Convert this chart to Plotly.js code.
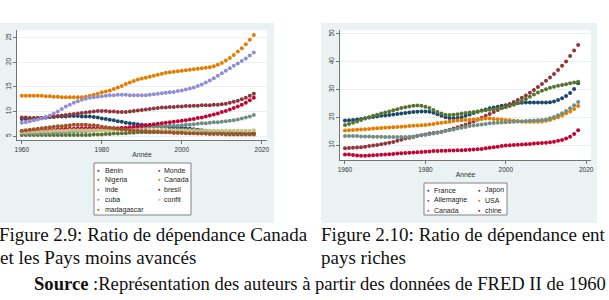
<!DOCTYPE html>
<html>
<head>
<meta charset="utf-8">
<script src="https://cdn.plot.ly/plotly-3.0.1.min.js"></script>
<style>
  html, body { margin: 0; padding: 0; background: #ffffff; }
  #chart { width: 609px; height: 300px; }
</style>
</head>
<body>
<div id="chart"></div>
<script>
// Years shared by both panels
const years = [1960,1961,1962,1963,1964,1965,1966,1967,1968,1969,
               1970,1971,1972,1973,1974,1975,1976,1977,1978,1979,
               1980,1981,1982,1983,1984,1985,1986,1987,1988,1989,
               1990,1991,1992,1993,1994,1995,1996,1997,1998,1999,
               2000,2001,2002,2003,2004,2005,2006,2007,2008,2009,
               2010,2011,2012,2013,2014,2015,2016,2017,2018];

// ---- Panel 1: Canada et pays moins avancés (old-age dependency ratio, %) ----
const benin = [8.5,8.5,8.6,8.6,8.7,8.7,8.8,8.9,8.9,9.0, 9.0,9.0,9.1,9.1,9.1,9.0,9.0,9.0,8.9,8.8,
               8.6,8.5,8.3,8.2,8.0,7.9,7.7,7.6,7.5,7.4, 7.3,7.2,7.1,7.0,7.0,6.9,6.9,6.8,6.8,6.7,
               6.7,6.6,6.5,6.4,6.3,6.2,6.1,6.0,6.0,5.9, 5.9,5.8,5.8,5.7,5.7,5.7,5.6,5.6,5.6];
const monde = [8.8,8.8,8.7,8.7,8.7,8.7,8.8,8.9,9.0,9.1, 9.2,9.3,9.4,9.5,9.6,9.7,9.8,9.9,10.0,10.1,
               10.1,10.1,10.0,10.0,9.9,9.9,9.9,10.0,10.1,10.2, 10.3,10.4,10.5,10.6,10.7,10.8,10.8,10.9,10.9,11.0,
               11.0,11.1,11.1,11.2,11.2,11.3,11.3,11.3,11.4,11.4, 11.5,11.6,11.8,12.0,12.2,12.5,12.8,13.2,13.6];
const nigeria = [5.2,5.2,5.2,5.2,5.2,5.2,5.2,5.2,5.2,5.2, 5.2,5.2,5.2,5.2,5.2,5.2,5.2,5.2,5.3,5.3,
                 5.3,5.4,5.4,5.5,5.5,5.6,5.6,5.7,5.7,5.8, 5.8,5.8,5.8,5.8,5.8,5.8,5.8,5.8,5.7,5.7,
                 5.7,5.7,5.6,5.6,5.6,5.6,5.5,5.5,5.5,5.5, 5.5,5.5,5.4,5.4,5.4,5.4,5.4,5.4,5.4];
const canada = [13.2,13.2,13.2,13.2,13.2,13.2,13.1,13.1,13.0,13.0, 12.9,12.9,12.9,12.9,12.9,12.9,13.0,13.2,13.4,13.6,
                13.9,14.1,14.3,14.6,14.9,15.2,15.6,15.9,16.2,16.5, 16.7,16.9,17.1,17.3,17.5,17.7,17.9,18.0,18.1,18.2,
                18.3,18.4,18.5,18.6,18.7,18.8,18.9,19.0,19.2,19.5, 19.9,20.4,20.9,21.5,22.2,22.9,23.7,24.6,25.6];
const inde = [5.5,5.5,5.5,5.5,5.6,5.6,5.6,5.7,5.7,5.7, 5.8,5.8,5.9,5.9,6.0,6.0,6.0,6.1,6.1,6.2,
              6.2,6.3,6.3,6.4,6.4,6.5,6.6,6.6,6.7,6.7, 6.8,6.8,6.9,6.9,7.0,7.0,7.0,7.1,7.1,7.1,
              7.2,7.3,7.3,7.4,7.5,7.6,7.6,7.7,7.8,7.8, 7.9,8.0,8.1,8.2,8.4,8.6,8.8,9.0,9.3];
const bresil = [6.0,6.0,6.1,6.1,6.1,6.2,6.2,6.3,6.3,6.4, 6.4,6.5,6.5,6.5,6.6,6.6,6.6,6.6,6.6,6.6,
                6.6,6.6,6.6,6.6,6.6,6.7,6.7,6.8,6.9,7.0, 7.1,7.2,7.3,7.4,7.5,7.6,7.7,7.8,7.9,8.0,
                8.1,8.2,8.4,8.5,8.7,8.8,9.0,9.2,9.4,9.6, 9.9,10.1,10.4,10.7,11.0,11.4,11.8,12.3,12.8];
const cuba = [7.7,7.8,8.0,8.2,8.4,8.6,8.9,9.2,9.6,10.0, 10.5,11.0,11.4,11.8,12.1,12.4,12.6,12.8,12.9,13.0,
              13.1,13.2,13.3,13.3,13.4,13.4,13.4,13.3,13.3,13.3, 13.3,13.3,13.4,13.5,13.6,13.7,13.8,13.9,14.0,14.2,
              14.3,14.5,14.7,14.9,15.2,15.5,15.9,16.3,16.8,17.3, 17.8,18.3,18.8,19.3,19.8,20.3,20.8,21.4,22.0];
const confit = [5.8,5.8,5.9,5.9,5.9,6.0,6.0,6.0,6.1,6.1, 6.1,6.1,6.2,6.2,6.2,6.2,6.2,6.2,6.2,6.2,
                6.2,6.2,6.2,6.2,6.2,6.2,6.2,6.2,6.2,6.2, 6.2,6.2,6.2,6.2,6.2,6.2,6.2,6.2,6.2,6.2,
                6.2,6.2,6.2,6.2,6.1,6.1,6.1,6.1,6.1,6.1, 6.1,6.1,6.1,6.1,6.1,6.1,6.1,6.1,6.2];
const madagascar = [6.1,6.2,6.3,6.4,6.5,6.6,6.7,6.8,6.9,7.0, 7.0,7.1,7.2,7.3,7.3,7.3,7.3,7.2,7.2,7.1,
                    6.9,6.8,6.7,6.6,6.5,6.4,6.3,6.2,6.1,6.1, 6.0,6.0,5.9,5.9,5.9,5.8,5.8,5.8,5.7,5.7,
                    5.7,5.6,5.6,5.6,5.5,5.5,5.5,5.4,5.4,5.4, 5.4,5.3,5.3,5.3,5.3,5.3,5.3,5.3,5.3];

// ---- Panel 2: pays riches ----
const france = [18.8,18.9,19.0,19.2,19.4,19.6,19.9,20.1,20.3,20.5, 20.6,20.8,21.0,21.2,21.3,21.5,21.7,21.9,22.0,22.1,
                22.1,22.0,21.6,21.1,20.5,20.0,19.7,19.6,19.7,20.0, 20.5,21.0,21.5,22.0,22.4,22.8,23.2,23.5,23.8,24.1,
                24.3,24.6,24.8,25.0,25.2,25.3,25.3,25.3,25.3,25.3, 25.3,25.4,25.7,26.2,26.8,27.6,28.7,30.2,32.2];
const japon = [8.8,8.9,9.0,9.1,9.2,9.4,9.6,9.8,10.0,10.3, 10.5,10.8,11.1,11.5,11.9,12.3,12.6,12.9,13.2,13.5,
               13.8,14.1,14.3,14.5,14.8,15.1,15.5,15.9,16.4,16.8, 17.3,17.9,18.5,19.1,19.8,20.5,21.2,21.9,22.6,23.3,
               24.0,24.8,25.5,26.2,27.0,27.8,28.8,29.8,30.9,32.0, 33.1,34.3,35.6,37.0,38.5,40.1,42.0,44.0,46.0];
const allemagne = [17.2,17.6,18.0,18.5,19.0,19.5,20.0,20.5,20.9,21.3, 21.7,22.1,22.5,22.9,23.3,23.6,23.9,24.1,24.2,24.1,
                   23.8,23.3,22.6,21.9,21.3,20.9,20.8,20.9,21.1,21.3, 21.5,21.7,21.9,22.1,22.3,22.5,22.7,22.9,23.1,23.3,
                   23.6,24.0,24.5,25.1,25.8,26.6,27.4,28.2,28.9,29.5, 30.1,30.6,31.0,31.3,31.6,31.9,32.2,32.5,32.8];
const usa = [15.2,15.3,15.4,15.5,15.6,15.7,15.8,15.9,16.0,16.1, 16.2,16.3,16.4,16.5,16.6,16.7,16.8,16.9,17.0,17.1,
             17.2,17.4,17.6,17.8,18.0,18.2,18.4,18.6,18.8,18.9, 19.0,19.1,19.2,19.3,19.4,19.5,19.5,19.4,19.3,19.2,
             19.0,18.9,18.7,18.6,18.5,18.4,18.4,18.4,18.4,18.5, 18.7,19.0,19.5,20.0,20.6,21.3,22.1,23.0,24.0];
const canadaRiches = [13.2,13.2,13.2,13.2,13.1,13.1,13.1,13.0,13.0,13.0, 12.9,12.9,12.9,12.9,12.9,12.9,13.0,13.1,13.3,13.5,
                      13.7,13.9,14.1,14.4,14.7,15.0,15.3,15.6,15.9,16.2, 16.5,16.8,17.0,17.2,17.4,17.6,17.8,17.9,18.0,18.1,
                      18.2,18.3,18.4,18.5,18.5,18.6,18.7,18.8,18.9,19.0, 19.2,19.6,20.1,20.7,21.4,22.2,23.2,24.3,25.5];
const chine = [6.6,6.6,6.4,6.2,6.1,6.1,6.2,6.3,6.4,6.5, 6.6,6.7,6.8,6.9,7.0,7.1,7.2,7.3,7.4,7.5,
               7.6,7.7,7.8,7.8,7.9,7.9,8.0,8.0,8.1,8.1, 8.2,8.3,8.4,8.5,8.6,8.8,9.0,9.2,9.4,9.6,
               9.8,9.9,10.0,10.1,10.2,10.3,10.4,10.5,10.6,10.7, 10.8,11.0,11.2,11.5,11.8,12.3,13.0,14.0,15.3];

// Series in legend order (row by row, two columns)
const namesLeft  = ['Bénin','Monde','Nigeria','Canada','inde','bresil','cuba','confit','madagascar'];
const valuesLeft = [benin, monde, nigeria, canada, inde, bresil, cuba, confit, madagascar];
const namesRight  = ['France','Japon','Allemagne','USA','Canada','chine'];
const valuesRight = [france, japon, allemagne, usa, canadaRiches, chine];

// s2color palette
const palette = ['#1a476f','#90353b','#55752f','#e37e00','#6e8e84','#c10534','#938dd2','#cac27e','#a0522d'];

const W = 609, H = 300;
const px = x => x / W;
const py = y => 1 - y / H;

const sans = 'Liberation Sans, Arial, sans-serif';
const serif = 'Liberation Serif, Times New Roman, serif';

const traces = [];
valuesLeft.forEach((v, i) => traces.push({
  type: 'scatter', mode: 'markers', x: years, y: v, name: namesLeft[i],
  xaxis: 'x', yaxis: 'y', marker: { size: 4, color: palette[i] }, hoverinfo: 'skip'
}));
valuesRight.forEach((v, i) => traces.push({
  type: 'scatter', mode: 'markers', x: years, y: v, name: namesRight[i],
  xaxis: 'x2', yaxis: 'y2', marker: { size: 4, color: palette[i] }, hoverinfo: 'skip'
}));

function xAxisDef(domain, range, anchor) {
  return {
    domain, range, anchor, tickvals: [1960, 1980, 2000, 2020],
    ticks: 'outside', ticklen: 3, tickwidth: 0.8, tickcolor: '#555',
    showline: true, linecolor: '#555', linewidth: 0.8,
    showgrid: false, zeroline: false, fixedrange: true,
    tickfont: { family: sans, size: 6.5, color: '#333' },
    title: { text: 'Année', font: { family: sans, size: 6.8, color: '#333' }, standoff: 0 }
  };
}
function yAxisDef(domain, range, anchor, tickvals) {
  return {
    domain, range, anchor, tickvals, tickangle: -90,
    ticks: 'outside', ticklen: 3, tickwidth: 0.8, tickcolor: '#555',
    showline: true, linecolor: '#555', linewidth: 0.8,
    showgrid: true, gridcolor: '#e6eeef', gridwidth: 0.8, zeroline: false, fixedrange: true,
    tickfont: { family: sans, size: 6.5, color: '#333' }
  };
}

const shapes = [
  // graph regions
  { type: 'rect', xref: 'paper', yref: 'paper', x0: px(0), x1: px(274), y0: py(223), y1: py(23),
    fillcolor: '#eaf2f3', line: { width: 0 }, layer: 'below' },
  { type: 'rect', xref: 'paper', yref: 'paper', x0: px(321), x1: px(597), y0: py(223), y1: py(23),
    fillcolor: '#eaf2f3', line: { width: 0 }, layer: 'below' },
  // plot regions
  { type: 'rect', xref: 'paper', yref: 'paper', x0: px(17), x1: px(267), y0: py(140.5), y1: py(30),
    fillcolor: '#ffffff', line: { width: 0 }, layer: 'below' },
  { type: 'rect', xref: 'paper', yref: 'paper', x0: px(340), x1: px(591), y0: py(160), y1: py(30),
    fillcolor: '#ffffff', line: { width: 0 }, layer: 'below' },
  // legend frames
  { type: 'rect', xref: 'paper', yref: 'paper', x0: px(94), x1: px(191), y0: py(215), y1: py(163),
    fillcolor: '#ffffff', line: { width: 0.8, color: '#666' }, layer: 'below' },
  { type: 'rect', xref: 'paper', yref: 'paper', x0: px(424), x1: px(507), y0: py(215), y1: py(183),
    fillcolor: '#ffffff', line: { width: 0.8, color: '#666' }, layer: 'below' }
];

const annotations = [];
// Two-column legend keys, filled row by row
function legend(names, dotX, textX, rowY, step) {
  names.forEach((n, i) => {
    const col = i % 2, row = Math.floor(i / 2);
    const y = rowY + row * step;
    annotations.push({ xref: 'paper', yref: 'paper', x: px(dotX[col]), y: py(y), text: '●',
      showarrow: false, xanchor: 'center', yanchor: 'middle',
      font: { family: sans, size: 4.5, color: palette[i] } });
    annotations.push({ xref: 'paper', yref: 'paper', x: px(textX[col]), y: py(y), text: n,
      showarrow: false, xanchor: 'left', yanchor: 'middle',
      font: { family: sans, size: 7, color: '#222' } });
  });
}
legend(namesLeft, [98.5, 159.5], [102.5, 161.5], 170, 9.9);
legend(namesRight, [428, 479.5], [432, 482.5], 190, 10);

// Captions
function caption(x, y, text, size) {
  annotations.push({ xref: 'paper', yref: 'paper', x: px(x), y: py(y), text,
    showarrow: false, xanchor: 'left', yanchor: 'middle',
    font: { family: serif, size: size || 19, color: '#111' } });
}
caption(-3, 234, 'Figure 2.9: Ratio de dépendance Canada');
caption(-2, 257, 'et les Pays moins avancés');
caption(319, 234, 'Figure 2.10: Ratio de dépendance ent');
caption(319, 257, 'pays riches');
caption(32, 283.5, '<b>Source</b> :Représentation des auteurs à partir des données de FRED II de 1960', 18.6);

const layout = {
  width: W, height: H,
  margin: { l: 0, r: 0, t: 0, b: 0 },
  paper_bgcolor: '#ffffff', plot_bgcolor: 'rgba(0,0,0,0)',
  showlegend: false,
  xaxis: xAxisDef([px(17), px(267)], [1958.8, 2021.3], 'y'),
  yaxis: yAxisDef([py(140.5), py(30)], [4.1, 26.6], 'x', [5, 10, 15, 20, 25]),
  xaxis2: xAxisDef([px(340), px(591)], [1958.76, 2021.2], 'y2'),
  yaxis2: yAxisDef([py(160), py(30)], [4.6, 51.4], 'x2', [10, 20, 30, 40, 50]),
  shapes, annotations
};

Plotly.newPlot('chart', traces, layout, { staticPlot: true, displayModeBar: false });
</script>
</body>
</html>
